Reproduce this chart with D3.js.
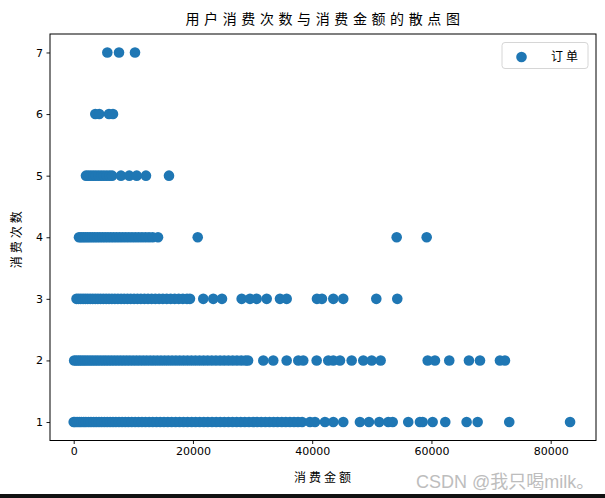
<!DOCTYPE html>
<html>
<head>
<meta charset="utf-8">
<script src="https://cdn.jsdelivr.net/npm/d3@7"></script>
<style>
  html, body { margin: 0; padding: 0; background: #fff; }
  svg { display: block; }
</style>
</head>
<body>
<svg id="chart" width="605" height="498"></svg>
<script>
// ---- data: 消费金额 (amount) for each 消费次数 (order count) ----
const amounts1 = [0, 210, 560, 930, 1280, 1690, 2050, 2480, 2900, 3350, 3770, 4240, 4680, 5150, 5620, 6100, 6590, 7080, 7600, 8110, 8650, 9180, 9740, 10300, 10880, 11450, 12040, 12650, 13260, 13880, 14500, 15140, 15790, 16430, 17100, 17760, 18420, 19100, 19790, 20450, 21130, 21820, 22500, 23200, 23890, 24570, 25260, 25950, 26640, 27330, 28020, 28700, 29400, 30080, 30770, 31450, 32150, 32840, 33530, 34200, 34900, 35580, 36270, 36950, 37620, 38300, 39630, 40470, 42140, 43540, 45210, 48010, 49520, 51250, 52760, 53500, 56110, 58070, 58530, 60200, 62320, 65900, 67750, 73050, 83250];
const amounts2 = [80, 420, 790, 1150, 1540, 1920, 2330, 2740, 3160, 3590, 4020, 4470, 4930, 5390, 5860, 6340, 6830, 7330, 7840, 8360, 8890, 9420, 9970, 10530, 11090, 11660, 12240, 12830, 13420, 14020, 14630, 15250, 15870, 16500, 17140, 17780, 18430, 19090, 19750, 20420, 21100, 21780, 22460, 23150, 23850, 24550, 25250, 25960, 26670, 27380, 28100, 28810, 29240, 31800, 33470, 35720, 37670, 38500, 40750, 42700, 43540, 44660, 46620, 48570, 49980, 51480, 59370, 60590, 62990, 66290, 68140, 71490, 72330];
const amounts3 = [470, 820, 1190, 1570, 1960, 2360, 2770, 3190, 3620, 4060, 4510, 4970, 5440, 5920, 6410, 6910, 7420, 7940, 8470, 9010, 9560, 10120, 10690, 11270, 11860, 12460, 13070, 13690, 14320, 14960, 15610, 16270, 16940, 17620, 18310, 19000, 19500, 21730, 23410, 24870, 28170, 29570, 30690, 32370, 34600, 35720, 40800, 41640, 43540, 45210, 50750, 54270];
const amounts4 = [890, 1230, 1590, 1960, 2340, 2730, 3130, 3540, 3960, 4390, 4830, 5280, 5740, 6210, 6690, 7180, 7680, 8190, 8710, 9240, 9780, 10330, 10890, 11460, 12040, 12630, 13240, 14140, 20800, 54170, 59200];
const amounts5 = [2060, 2450, 2870, 3290, 3720, 4160, 4610, 5070, 5540, 6010, 6440, 7930, 9320, 10570, 12120, 15980];
const amounts6 = [3620, 4290, 5920, 6590];
const amounts7 = [5640, 7600, 10280];
const orderCounts = [1, 2, 3, 4, 5, 6, 7];
const xTicks = [0, 20000, 40000, 60000, 80000];
const yTicks = [1, 2, 3, 4, 5, 6, 7];

const title = "用户消费次数与消费金额的散点图";
const xLabel = "消费金额";
const yLabel = "消费次数";
const legendLabel = "订单";
const watermark = "CSDN @我只喝milk。";

const rows = [amounts1, amounts2, amounts3, amounts4, amounts5, amounts6, amounts7];
const points = [];
rows.forEach((arr, i) => arr.forEach(v => points.push({ amount: v, count: orderCounts[i] })));

// ---- layout ----
const W = 605, H = 498;
const plot = { left: 50, top: 34, right: 596, bottom: 440.5 };
const color = "#1f77b4";
const r = 5.3;
const cjk = "'Noto Sans CJK SC', 'Noto Sans', sans-serif";

const svg = d3.select("#chart");
svg.append("rect").attr("width", W).attr("height", H).attr("fill", "#fff");

const x = d3.scaleLinear().domain([-3975, 87600]).range([plot.left, plot.right]);
const y = d3.scaleLinear().domain([0.7, 7.3]).range([plot.bottom, plot.top]);

// points
svg.append("g")
  .selectAll("circle")
  .data(points)
  .join("circle")
  .attr("cx", d => x(d.amount))
  .attr("cy", d => y(d.count))
  .attr("r", r)
  .attr("fill", color);

// axes
const xAxis = svg.append("g")
  .attr("transform", `translate(0,${plot.bottom})`)
  .call(d3.axisBottom(x).tickValues(xTicks).tickFormat(d3.format("d")).tickSize(3.5).tickPadding(3.5));
const yAxis = svg.append("g")
  .attr("transform", `translate(${plot.left},0)`)
  .call(d3.axisLeft(y).tickValues(yTicks).tickFormat(d3.format("d")).tickSize(3.5).tickPadding(3.5));
[xAxis, yAxis].forEach(g => {
  g.select(".domain").remove();
  g.selectAll(".tick line").attr("stroke", "#000").attr("stroke-width", 0.9);
  g.selectAll(".tick text")
    .attr("fill", "#000")
    .style("font-family", "'DejaVu Sans', sans-serif")
    .style("font-size", "11px");
});

// frame
svg.append("rect")
  .attr("x", plot.left).attr("y", plot.top)
  .attr("width", plot.right - plot.left).attr("height", plot.bottom - plot.top)
  .attr("fill", "none").attr("stroke", "#000").attr("stroke-width", 1);

// title
svg.append("text")
  .attr("x", (plot.left + plot.right) / 2 + 2).attr("y", 24)
  .attr("text-anchor", "middle")
  .style("font-family", cjk).style("font-size", "14px").style("letter-spacing", "4.6px")
  .attr("fill", "#000")
  .text(title);

// x label
svg.append("text")
  .attr("x", (plot.left + plot.right) / 2 + 1).attr("y", 482)
  .attr("text-anchor", "middle")
  .style("font-family", cjk).style("font-size", "12px").style("letter-spacing", "3px")
  .attr("fill", "#000")
  .text(xLabel);

// y label
svg.append("text")
  .attr("transform", `translate(21,${(plot.top + plot.bottom) / 2 + 1}) rotate(-90)`)
  .attr("text-anchor", "middle")
  .style("font-family", cjk).style("font-size", "12px").style("letter-spacing", "3px")
  .attr("fill", "#000")
  .text(yLabel);

// legend
const lg = svg.append("g");
lg.append("rect")
  .attr("x", 502).attr("y", 42.5).attr("width", 86).attr("height", 26).attr("rx", 3)
  .attr("fill", "#fff").attr("fill-opacity", 0.8)
  .attr("stroke", "#d6d6d6").attr("stroke-width", 1);
lg.append("circle").attr("cx", 521.5).attr("cy", 57).attr("r", r).attr("fill", color);
lg.append("text")
  .attr("x", 551).attr("y", 60.5)
  .style("font-family", cjk).style("font-size", "12px").style("letter-spacing", "3px")
  .attr("fill", "#000")
  .text(legendLabel);

// watermark
svg.append("text")
  .attr("x", 416).attr("y", 488)
  .style("font-family", "'Liberation Sans', 'Noto Sans CJK SC', sans-serif")
  .style("font-size", "18px")
  .attr("fill", "#bdbdbd")
  .text(watermark);

// bottom dark band of the screenshot
svg.append("rect").attr("x", 0).attr("y", 494).attr("width", W).attr("height", 4).attr("fill", "#111");
</script>
</body>
</html>
